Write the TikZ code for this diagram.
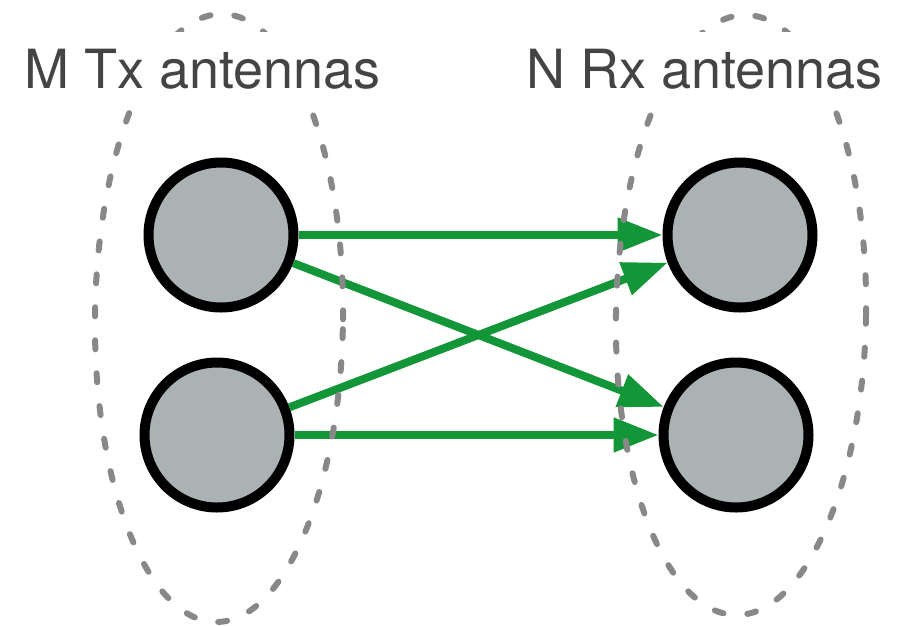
\documentclass[tikz,border=0pt]{standalone}
\usepackage{fontspec}
\setmainfont{TeX Gyre Heros}
\usetikzlibrary{arrows.meta}
\definecolor{linkgreen}{RGB}{18,150,56}
\definecolor{antfill}{RGB}{170,178,180}
\definecolor{groupgray}{RGB}{136,136,136}
\definecolor{labelgray}{RGB}{68,68,68}
\tikzset{
  antenna/.style={circle, draw=black, line width=10pt, fill=antfill,
    minimum size=145pt, inner sep=0pt},
  link/.style={draw=linkgreen, line width=8pt,
    -{Triangle[length=45pt, width=33pt]}},
  group/.style={draw=groupgray, line width=6pt, line cap=round,
    dash pattern=on 9pt off 24pt},
  grouplabel/.style={fill=white, text=labelgray, inner sep=0pt,
    text height=56pt, text depth=10pt, anchor=base west,
    font=\fontsize{54pt}{60pt}\selectfont}
}
\begin{document}
\begin{tikzpicture}[x=1pt, y=-1pt]
  \useasboundingbox (0,0) rectangle (897,625);

  % transmit and receive antennas
  \node[antenna] (t1) at (221,235) {};
  \node[antenna] (t2) at (217,435) {};
  \node[antenna] (r1) at (740,235) {};
  \node[antenna] (r2) at (736,435) {};

  % channel paths
  \draw[link] (t1) -- (r1);
  \draw[link] (t1) -- (r2);
  \draw[link] (t2) -- (r1);
  \draw[link] (t2) -- (r2);

  % antenna groups
  \draw[group, shift={(219,318)}, rotate=-0.6] (0,0) ellipse [x radius=124pt, y radius=304pt];
  \draw[group, shift={(741,315)}, rotate=-1] (0,0) ellipse [x radius=125pt, y radius=300pt];

  % group labels
  \node[grouplabel] (txlabel) at (24,88) {M Tx antennas};
  \node[grouplabel] (rxlabel) at (526,88) {N Rx antennas};
\end{tikzpicture}
\end{document}
